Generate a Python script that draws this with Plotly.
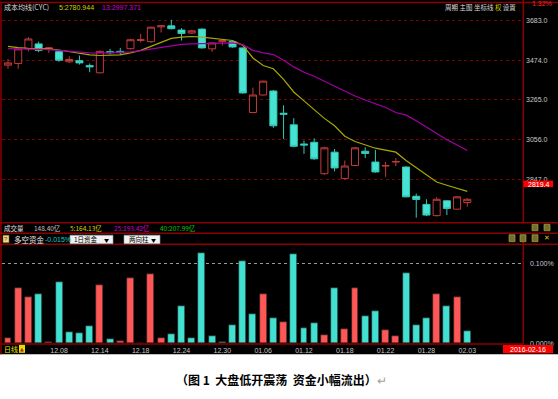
import plotly.graph_objects as go

# ---------------- data ----------------
dates = ["12.01", "12.02", "12.03", "12.04", "12.07", "12.08", "12.09", "12.10", "12.11",
         "12.14", "12.15", "12.16", "12.17", "12.18", "12.21", "12.22", "12.23", "12.24",
         "12.25", "12.28", "12.29", "12.30", "12.31", "01.04", "01.05", "01.06", "01.07",
         "01.08", "01.11", "01.12", "01.13", "01.14", "01.15", "01.18", "01.19", "01.20",
         "01.21", "01.22", "01.25", "01.26", "01.27", "01.28", "01.29", "02.01", "02.02", "02.03"]
opens = [3448, 3457, 3534, 3560, 3534, 3519, 3466, 3472, 3446, 3408, 3519, 3521, 3535, 3578,
         3572, 3650, 3655, 3633, 3617, 3638, 3534, 3572, 3572, 3539, 3199, 3291, 3312, 3195,
         3134, 3033, 3042, 2877, 2990, 2851, 2920, 2995, 2938, 2917, 2938, 2912, 2758, 2715,
         2656, 2734, 2690, 2725]
highs = [3481, 3537, 3596, 3572, 3544, 3524, 3495, 3499, 3457, 3525, 3534, 3539, 3587, 3613,
         3651, 3658, 3687, 3643, 3634, 3642, 3568, 3579, 3577, 3541, 3330, 3366, 3317, 3237,
         3169, 3051, 3063, 3019, 3007, 2946, 3017, 3016, 3002, 2938, 2959, 2915, 2772, 2742,
         2753, 2737, 2758, 2749]
lows = [3429, 3429, 3521, 3516, 3513, 3466, 3460, 3451, 3411, 3405, 3504, 3504, 3530, 3568,
        3566, 3620, 3637, 3578, 3612, 3535, 3518, 3551, 3540, 3298, 3195, 3288, 3118, 3059,
        3016, 2981, 2950, 2871, 2889, 2847, 2917, 2959, 2882, 2860, 2917, 2752, 2645, 2654,
        2651, 2659, 2688, 2703]
closes = [3460, 3534, 3586, 3526, 3539, 3474, 3478, 3460, 3439, 3521, 3514, 3514, 3582, 3582,
          3648, 3655, 3640, 3615, 3629, 3539, 3565, 3577, 3544, 3302, 3291, 3364, 3129, 3190,
          3021, 3028, 2955, 3013, 2907, 2917, 3013, 2983, 2886, 2920, 2941, 2755, 2741, 2659,
          2742, 2694, 2755, 2742]
ma5 = [3547, 3540, 3537, 3535, 3534, 3528, 3519, 3511, 3502, 3499, 3499, 3502, 3513, 3526,
       3547, 3568, 3589, 3596, 3599, 3596, 3591, 3586, 3578, 3553, 3486, 3446, 3429, 3373,
       3307, 3260, 3213, 3168, 3129, 3074, 3046, 3028, 3011, 3001, 2990, 2946, 2907, 2868,
       2833, 2816, 2802, 2784]
ma13 = [3535, 3534, 3534, 3532, 3530, 3526, 3521, 3516, 3513, 3511, 3513, 3514, 3518, 3525,
        3534, 3544, 3552, 3558, 3560, 3561, 3563, 3563, 3565, 3556, 3526, 3513, 3504, 3474,
        3439, 3411, 3390, 3363, 3338, 3310, 3286, 3265, 3246, 3225, 3199, 3185, 3155, 3121,
        3086, 3056, 3028, 2999]
flow = [0.007, 0.069, 0.058, -0.062, 0.001, -0.077, -0.0145, -0.013, -0.022, 0.073,
        -0.005, 0.0025, 0.082, 0.0005, 0.086, 0.007, -0.012, -0.047, -0.007, -0.113,
        -0.009, -0.0015, -0.023, -0.1025, -0.036, 0.062, -0.032, 0.026, -0.111, -0.019,
        -0.025, 0.010, -0.069, 0.018, 0.069, -0.034, -0.040, 0.0165, 0.009, -0.088,
        -0.023, -0.031, 0.062, -0.047, 0.058, -0.015]
tick_dates = ["12.08", "12.14", "12.18", "12.24", "12.30", "01.06", "01.12", "01.18",
              "01.22", "01.28", "02.03"]
price_ticks = [2847.0, 3056.0, 3265.0, 3474.0, 3683.0]
flow_ticks = [0.0, 0.1]

# ---------------- geometry helpers ----------------
W, H = 558, 399
def fx(px):
    return px / W
def fy(py):
    return 1 - py / H

RED_UP = "#c23a3a"
CYAN = "#46e2d2"
BAR_RED = "#ff5656"
BAR_CYAN = "#42e0d0"
FRAME = "#8b0000"
CJK = "Noto Sans CJK SC"
NUM = "Liberation Sans"

fig = go.Figure()

fig.add_trace(go.Candlestick(
    x=dates, open=opens, high=highs, low=lows, close=closes,
    increasing=dict(line=dict(color=RED_UP, width=1), fillcolor="#000000"),
    decreasing=dict(line=dict(color="#35c8b8", width=1), fillcolor=CYAN),
    whiskerwidth=0, xaxis="x", yaxis="y", showlegend=False, hoverinfo="skip"))
fig.add_trace(go.Scatter(x=dates, y=ma5, mode="lines", line=dict(color="#a8a800", width=1.2),
                         xaxis="x", yaxis="y", showlegend=False, hoverinfo="skip"))
fig.add_trace(go.Scatter(x=dates, y=ma13, mode="lines", line=dict(color="#a400a4", width=1.2),
                         xaxis="x", yaxis="y", showlegend=False, hoverinfo="skip"))

fig.add_trace(go.Bar(
    x=dates, y=[abs(v) for v in flow],
    marker=dict(color=[BAR_RED if v >= 0 else BAR_CYAN for v in flow],
                line=dict(color="#222222", width=0.6)),
    width=0.68, xaxis="x2", yaxis="y2", showlegend=False, hoverinfo="skip"))

xr = [-0.588, 50.46]
main_dom = [fy(223), fy(3)]
flow_top_px, flow_bot_px = 247, 346
flow_scale = 807.0  # px per 1%

fig.update_layout(
    width=W, height=H,
    margin=dict(l=0, r=0, t=0, b=0),
    paper_bgcolor="white", plot_bgcolor="black",
    boxgap=0.31, boxgroupgap=0, bargap=0,
    xaxis=dict(domain=[fx(2), fx(523)], range=xr, type="category", visible=False,
               rangeslider=dict(visible=False), anchor="y"),
    yaxis=dict(domain=main_dom, range=[2626, 3775.5], side="right", anchor="x",
               tickvals=price_ticks, ticktext=[f"{v:.1f}" for v in price_ticks],
               tickfont=dict(family=NUM, size=7, color="#c8c8c8"),
               showgrid=True, gridcolor="#7a0000", griddash="dot", gridwidth=1,
               zeroline=False, showline=False, ticks="", ticklabelstandoff=2),
    xaxis2=dict(domain=[fx(2), fx(523)], range=xr, type="category", anchor="y2",
                tickvals=tick_dates, ticktext=tick_dates,
                tickfont=dict(family=NUM, size=7, color="#c8c8c8"),
                showgrid=False, zeroline=False, showline=False, ticks="",
                ticklabelstandoff=2),
    yaxis2=dict(domain=[fy(flow_bot_px), fy(flow_top_px)],
                range=[0, (flow_bot_px - flow_top_px) / flow_scale],
                side="right", anchor="x2",
                tickvals=flow_ticks, ticktext=[f"{v:.3f}%" for v in flow_ticks],
                tickfont=dict(family=NUM, size=7, color="#c8c8c8"),
                showgrid=True, gridcolor="#9a9a9a", griddash="dot", gridwidth=1,
                zeroline=False, showline=False, ticks="", ticklabelstandoff=6),
)

shapes = []
# black chart background
shapes.append(dict(type="rect", xref="paper", yref="paper", x0=0, x1=1, y0=fy(357), y1=1,
                   fillcolor="black", line=dict(width=0), layer="below"))
def hline(py, x0=0, x1=W, color=FRAME, w=1.5):
    shapes.append(dict(type="line", xref="paper", yref="paper", x0=fx(x0), x1=fx(x1),
                       y0=fy(py), y1=fy(py), line=dict(color=color, width=w)))
def vline(px, y0, y1, color=FRAME, w=1.5):
    shapes.append(dict(type="line", xref="paper", yref="paper", x0=fx(px), x1=fx(px),
                       y0=fy(y0), y1=fy(y1), line=dict(color=color, width=w)))
hline(2.5)
hline(224.5)
hline(235)
hline(246)
hline(346.5, 0, 523)
vline(1, 2.5, 357)
vline(523.3, 0, 224.5)
vline(523.3, 235, 346.5)

def rect(x0, y0, x1, y1, fill, line_color=None, lw=0):
    shapes.append(dict(type="rect", xref="paper", yref="paper", x0=fx(x0), x1=fx(x1),
                       y0=fy(y1), y1=fy(y0), fillcolor=fill,
                       line=dict(color=line_color or fill, width=lw)))
# last price box & date box
rect(523.5, 182, 553, 188.5, "#ff0000")
rect(503, 347.5, 553, 356, "#ff0000")
# dropdowns
rect(70, 237, 113, 245.5, "#f2f2f2", "#9a9a9a", 0.6)
rect(124, 237, 160, 245.5, "#f2f2f2", "#9a9a9a", 0.6)
# help icon
rect(3, 237, 9, 244.5, "#e8d890", "#806000", 0.5)
# daily icon
rect(19, 347.5, 25, 355.5, "#e0e000")
# small toolbar icons
for ix in (532, 544):
    rect(ix, 226, ix + 6, 232.5, "#707030", "#c0b040", 0.6)
for ix in (509, 520, 532):
    rect(ix, 236.5, ix + 6, 243.5, "#707030", "#c0b040", 0.6)

fig.update_layout(shapes=shapes)

ann = []
def text(s, px, py, color, size=7, family=CJK, anchor="left"):
    ann.append(dict(text=s, x=fx(px), y=fy(py), xref="paper", yref="paper",
                    xanchor=anchor, yanchor="middle", showarrow=False,
                    font=dict(family=family, size=size, color=color)))

text("成本均线(CYC)", 2, 7.5, "#d8d8d8")
text("5:2780.944", 57, 7.5, "#d0d000", family=NUM)
text("13:2997.371", 100, 7.5, "#d000d0", family=NUM)
text("周期 主图 坐标线 <span style='color:#c8d000'>权</span> 设置", 518, 7.5, "#d8d8d8",
     size=6.5, anchor="right")
text("1.32%", 554, 3.5, "#ff2020", family=NUM, anchor="right")
text("2819.4", 552, 185.5, "#ffffff", family=NUM, anchor="right")

text("成交量", 2, 230, "#e0e0e0", size=6.5)
text("148.40亿", 32, 230, "#c0c0c0", size=6.5)
text("5:164.13亿", 68, 230, "#d0d000", size=6.5)
text("25:193.42亿", 112, 230, "#d000d0", size=6.5)
text("40:207.99亿", 158, 230, "#00c800", size=6.5)

text("?", 6, 241, "#6a3a00", size=6, family=NUM, anchor="center")
text("多空资金", 12, 241, "#e8e8e8", size=7.5)
text("-0.015%", 43, 241, "#00d0c8", size=7, family=NUM)
text("1日资金", 72, 241.3, "#000000", size=6.5)
text("▼", 111, 241.3, "#000000", size=5, anchor="right")
text("两向柱", 127, 241.3, "#000000", size=6.5)
text("▼", 158, 241.3, "#000000", size=5, anchor="right")
text("✕", 547, 240, "#d8c000", size=7, family="DejaVu Sans", anchor="center")

text("日线", 2, 351.5, "#e0e000", size=7)
text("▲", 22, 351.5, "#b02000", size=5, family="DejaVu Sans", anchor="center")
text("2016-02-16", 528, 351.8, "#ffffff", size=7, family=NUM, anchor="center")

text("<b>（图 1  大盘低开震荡  资金小幅流出）</b><span style='color:#a0a0a0'>↵</span>",
     281, 382.5, "#000000", size=12, anchor="center")

fig.update_layout(annotations=ann)
fig.write_html("out.html", config={"displayModeBar": False},
               post_script="document.body.style.margin='0';document.body.style.overflow='hidden';")
